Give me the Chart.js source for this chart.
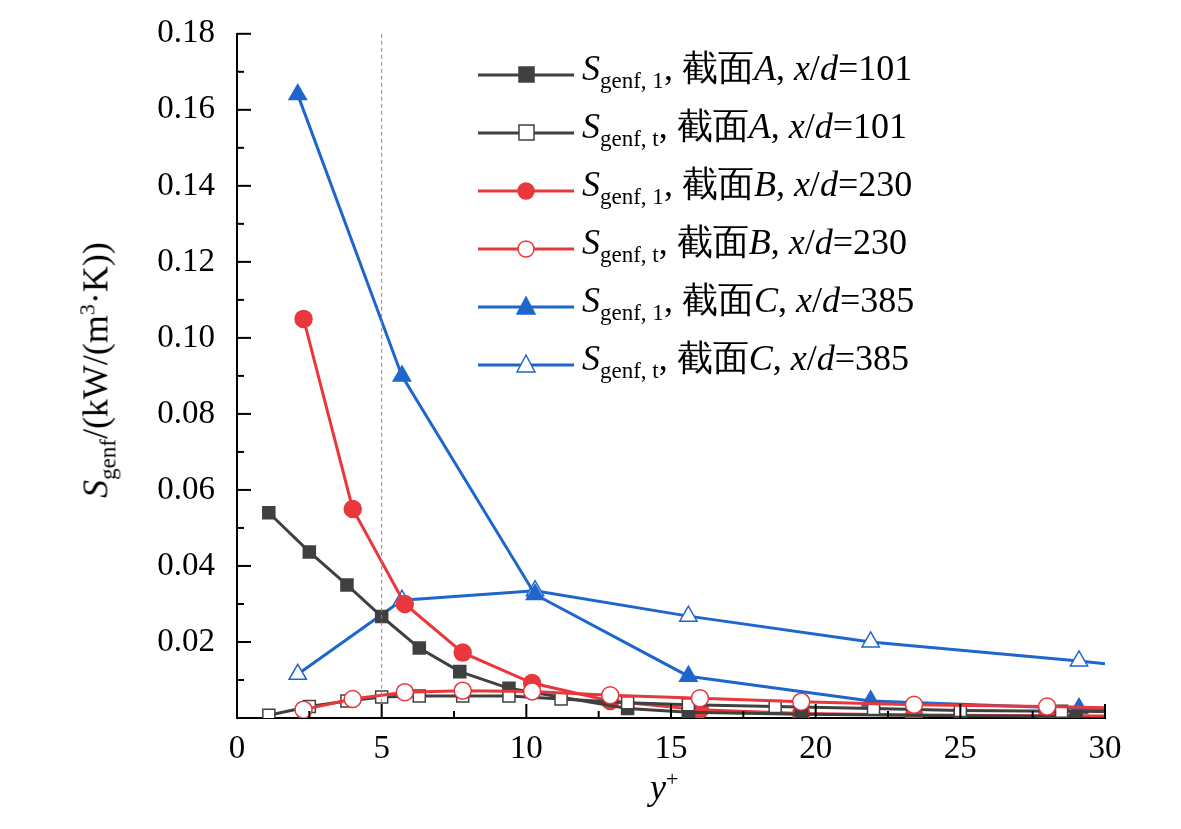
<!DOCTYPE html>
<html>
<head>
<meta charset="utf-8">
<script src="https://cdn.jsdelivr.net/npm/chart.js@4"></script>
<style>
  body { margin: 0; background: #fff; font-family: "Liberation Serif", serif; }
  #wrap { position: relative; width: 1181px; height: 829px; }
  #legend { position: absolute; left: 476px; top: 46px; font-size: 36px; line-height: 58px; }
  #legend .row { display: flex; align-items: center; height: 58px; white-space: nowrap; }
  #legend svg { margin-right: 6px; }
  sub { font-size: 23px; }
  #ytitle { position: absolute; left: 98px; top: 370px; transform: translate(-50%, -50%) rotate(-90deg); font-size: 36px; white-space: nowrap; }
  #xtitle { position: absolute; left: 650px; top: 766px; font-size: 36px; font-style: italic; }
</style>
</head>
<body>
<div id="wrap">
  <canvas id="c" width="1181" height="829"></canvas>
  <div id="legend"></div>
  <div id="ytitle"><i>S</i><sub>genf</sub>/(kW/(m<sup style="font-size:22px">3</sup>·K))</div>
  <div id="xtitle">y<sup style="font-size:22px;font-style:normal">+</sup></div>
</div>
<script>
// Сечение A, x/d=101
const aX = [1.1, 2.5, 3.8, 5.0, 6.3, 7.7, 9.4, 13.5, 15.6, 19.5, 25.0, 29.0];
const aSolid = [0.054, 0.0437, 0.035, 0.0267, 0.0184, 0.0122, 0.0078, 0.0025, 0.0015, 0.001, 0.0006, 0.0004];
const aHx = [1.1, 2.5, 3.8, 5.0, 6.3, 7.8, 9.4, 11.2, 13.5, 15.6, 18.6, 22.0, 25.0, 28.5, 30];
const aHollow = [0.0007, 0.003, 0.0045, 0.0055, 0.0058, 0.0058, 0.0058, 0.005, 0.004, 0.0035, 0.003, 0.0025, 0.002, 0.0018, 0.0017];
// Сечение B, x/d=230
const bX = [2.3, 4.0, 5.8, 7.8, 10.2, 12.9, 16.0, 19.5, 23.4, 28.0, 30];
const bSolid = [0.105, 0.055, 0.030, 0.0172, 0.0092, 0.0045, 0.0022, 0.0012, 0.0008, 0.0006, 0.0005];
const bHollow = [0.0022, 0.005, 0.0068, 0.0072, 0.007, 0.006, 0.0052, 0.0043, 0.0035, 0.003, 0.0027];
// Сечение C, x/d=385
const cX = [2.1, 5.7, 10.3, 15.6, 21.9, 29.1, 30];
const cSolid = [0.164, 0.090, 0.0325, 0.011, 0.0045, 0.0025, 0.0022];
const cHollow = [0.0115, 0.031, 0.0335, 0.0268, 0.020, 0.015, 0.0143];
const yTicks = [0.02, 0.04, 0.06, 0.08, 0.10, 0.12, 0.14, 0.16, 0.18];

const GRAY = '#404040', RED = '#e8383d', BLUE = '#1f66cc';

function pts(xs, ys) { return xs.map((x, i) => ({ x, y: ys[i] })); }
function radii(xs, r) { return xs.map(x => x >= 30 ? 0 : r); }

function ds(xs, ys, color, style, hollow) {
  const r = style === 'triangle' ? 10 : 8.5;
  return {
    data: pts(xs, ys), borderColor: color, borderWidth: 3,
    pointStyle: style, pointRadius: radii(xs, r), pointBorderWidth: 1.5,
    pointBackgroundColor: hollow ? '#fff' : color, pointBorderColor: color,
    tension: 0, clip: 0
  };
}

const datasets = [
  ds(bX, bHollow, RED, 'circle', true),
  ds(aHx, aHollow, GRAY, 'rect', true),
  ds(aX, aSolid, GRAY, 'rect', false),
  ds(bX, bSolid, RED, 'circle', false),
  ds(cX, cSolid, BLUE, 'triangle', false),
  ds(cX, cHollow, BLUE, 'triangle', true)
];

// внутренние засечки и пунктир на y+=5
const ticksPlugin = {
  id: 'inTicks',
  afterDraw(chart) {
    const { ctx, chartArea: a, scales: { x, y } } = chart;
    ctx.save();
    ctx.strokeStyle = '#888'; ctx.lineWidth = 1; ctx.setLineDash([4, 3]);
    ctx.beginPath(); ctx.moveTo(x.getPixelForValue(5), a.top); ctx.lineTo(x.getPixelForValue(5), a.bottom); ctx.stroke();
    ctx.setLineDash([]);
    ctx.strokeStyle = '#000'; ctx.lineWidth = 2;
    for (let v = 0; v <= 30; v += 2.5) {
      const px = x.getPixelForValue(v), len = v % 5 === 0 ? 14 : 7;
      ctx.beginPath(); ctx.moveTo(px, a.bottom); ctx.lineTo(px, a.bottom - len); ctx.stroke();
    }
    for (let v = 0; v <= 0.1801; v += 0.01) {
      const py = y.getPixelForValue(v), len = Math.round(v * 100) % 2 === 0 ? 14 : 7;
      ctx.beginPath(); ctx.moveTo(a.left, py); ctx.lineTo(a.left + len, py); ctx.stroke();
    }
    ctx.restore();
  }
};

new Chart(document.getElementById('c'), {
  type: 'line',
  data: { datasets },
  options: {
    responsive: false, animation: false,
    layout: { padding: { top: 12, right: 76, left: 0, bottom: 0 } },
    plugins: { legend: { display: false }, tooltip: { enabled: false } },
    scales: {
      x: {
        type: 'linear', min: 0, max: 30,
        afterFit(s) { s.height = 111; },
        grid: { display: false },
        border: { color: '#000', width: 2 },
        ticks: { stepSize: 5, color: '#000', padding: 4, font: { family: 'Liberation Serif', size: 33 } }
      },
      y: {
        min: 0, max: 0.18,
        afterFit(s) { s.width = 237; },
        afterBuildTicks(s) { s.ticks = yTicks.map(v => ({ value: v })); },
        grid: { display: false },
        border: { color: '#000', width: 2 },
        ticks: { color: '#000', padding: 14, font: { family: 'Liberation Serif', size: 33 },
          callback: v => v.toFixed(2) }
      }
    }
  },
  plugins: [ticksPlugin]
});

// легенда
const legendRows = [
  [GRAY, 'rect', false, '1', 'A', '101'],
  [GRAY, 'rect', true, 't', 'A', '101'],
  [RED, 'circle', false, '1', 'B', '230'],
  [RED, 'circle', true, 't', 'B', '230'],
  [BLUE, 'triangle', false, '1', 'C', '385'],
  [BLUE, 'triangle', true, 't', 'C', '385']
];
function marker(color, style, hollow) {
  const f = hollow ? '#fff' : color;
  let m;
  if (style === 'rect') m = `<rect x="43" y="12" width="15" height="15" fill="${f}" stroke="${color}" stroke-width="1.5"/>`;
  else if (style === 'circle') m = `<circle cx="50" cy="20" r="8" fill="${f}" stroke="${color}" stroke-width="1.5"/>`;
  else m = `<polygon points="50,10 59,27 41,27" fill="${f}" stroke="${color}" stroke-width="1.5"/>`;
  return `<svg width="100" height="40"><line x1="2" y1="20" x2="98" y2="20" stroke="${color}" stroke-width="3"/>${m}</svg>`;
}
document.getElementById('legend').innerHTML = legendRows.map(r =>
  `<div class="row">${marker(r[0], r[1], r[2])}<span><i>S</i><sub>genf, ${r[3]}</sub>, 截面<i>${r[4]}</i>, <i>x</i>/<i>d</i>=${r[5]}</span></div>`
).join('');
</script>
</body>
</html>
